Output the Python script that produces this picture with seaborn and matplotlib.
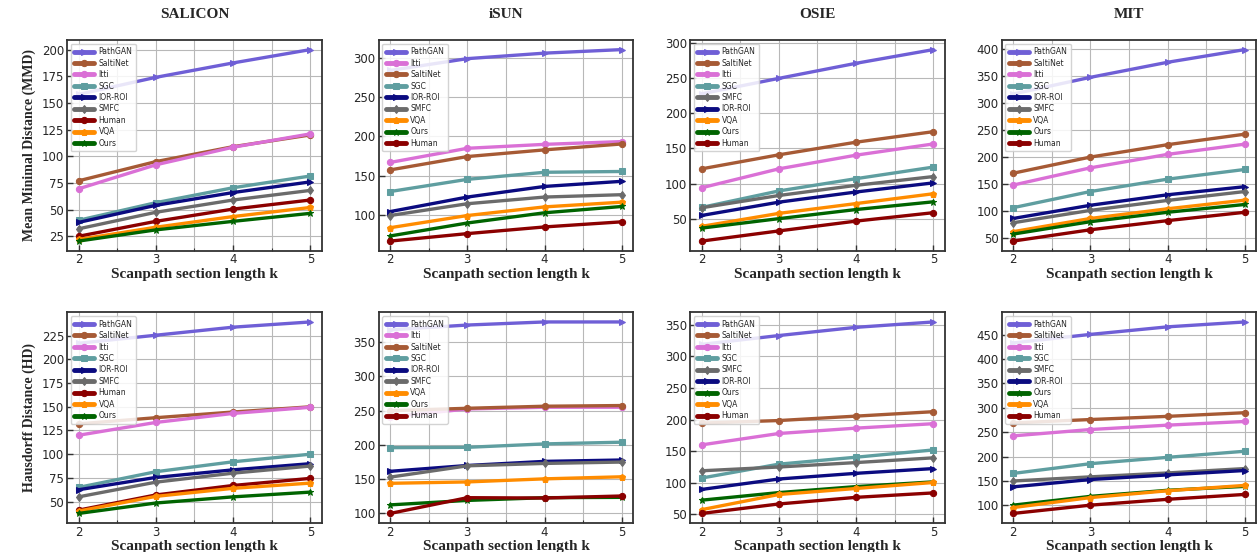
import numpy as np
import pandas as pd
import matplotlib
matplotlib.use('Agg')
import matplotlib.pyplot as plt
from matplotlib.ticker import MultipleLocator
import seaborn as sns

# longitudes de seccion k
k = [2, 3, 4, 5]

# Mean Minimal Distance (MMD)
salicon_mmd = {
    'PathGAN': [158, 174, 187.5, 200], 'SaltiNet': [77, 95, 109, 120],
    'Itti': [69.5, 92, 108.5, 121], 'SGC': [40, 56.5, 70.5, 81.5],
    'IOR-ROI': [38, 54, 66, 76], 'SMFC': [32, 47.5, 59, 68],
    'Human': [25, 39, 50.5, 59], 'VQA': [22, 33.5, 43.5, 52],
    'Ours': [20.5, 31, 39, 46.5],
}
isun_mmd = {
    'PathGAN': [284, 299, 306, 310.5], 'Itti': [167, 185, 190, 193.5],
    'SaltiNet': [157.5, 174.5, 183, 190.5], 'SGC': [130, 145.5, 154.5, 155.5],
    'IOR-ROI': [104.5, 123, 136.5, 143], 'SMFC': [99.5, 114.5, 123, 126],
    'VQA': [84, 99.5, 110.5, 116.5], 'Ours': [73.5, 90, 103, 111],
    'Human': [67, 76.5, 85, 91.5],
}
osie_mmd = {
    'PathGAN': [228, 250, 271.5, 291], 'SaltiNet': [121, 141, 159, 174],
    'Itti': [94, 121, 140.5, 156.5], 'SGC': [66, 89.5, 107, 123.5],
    'SMFC': [65.5, 83, 97.5, 110], 'IOR-ROI': [54.5, 73.5, 88, 101],
    'VQA': [39, 57.5, 71.5, 85.5], 'Ours': [36.5, 50, 63, 74],
    'Human': [18, 32.5, 46.5, 58.5],
}
mit_mmd = {
    'PathGAN': [317, 348, 376, 399.5], 'SaltiNet': [170, 200, 223, 242.5],
    'Itti': [148, 180, 205, 224], 'SGC': [106, 136, 159, 177],
    'IOR-ROI': [86, 110.5, 130, 145], 'SMFC': [78, 101, 119.5, 136],
    'VQA': [61.5, 86, 104, 120], 'Ours': [57, 80, 97.5, 112],
    'Human': [44, 65, 82, 97.5],
}

# Hausdorff Distance (HD)
salicon_hd = {
    'PathGAN': [217, 225.5, 234, 239.5], 'SaltiNet': [132, 138.5, 144.5, 150],
    'Itti': [120, 133.5, 143, 149.5], 'SGC': [65, 81.5, 92, 100],
    'IOR-ROI': [62.5, 75.5, 83.5, 90], 'SMFC': [55, 70.5, 80, 87.5],
    'Human': [41, 57, 67, 74.5], 'VQA': [40, 55.5, 64, 69.5],
    'Ours': [37.5, 48.5, 55, 60],
}
isun_hd = {
    'PathGAN': [368, 375, 379.5, 379.5], 'Itti': [241, 252.5, 255, 255],
    'SaltiNet': [250, 253.5, 256.5, 257.5], 'SGC': [196, 196.5, 201.5, 204],
    'IOR-ROI': [161.5, 170, 176, 178], 'SMFC': [153, 169.5, 173, 175],
    'VQA': [144, 146, 150.5, 153.5], 'Ours': [112.5, 119, 123, 123.5],
    'Human': [100, 123, 122.5, 125.5],
}
osie_hd = {
    'PathGAN': [319, 333, 346, 354.5], 'SaltiNet': [194.5, 198.5, 205.5, 212.5],
    'Itti': [160, 178, 186.5, 193.5], 'SGC': [107.5, 129.5, 140.5, 152],
    'SMFC': [119, 125, 132, 139.5], 'IOR-ROI': [89.5, 106, 115, 122.5],
    'Ours': [72.5, 84.5, 94, 101.5], 'VQA': [57.5, 81.5, 91, 100.5],
    'Human': [51.5, 66.5, 77, 84],
}
mit_hd = {
    'PathGAN': [433, 450.5, 466, 476], 'SaltiNet': [269, 276, 282.5, 290],
    'Itti': [242.5, 255.5, 264.5, 272], 'SGC': [165.5, 185.5, 198.5, 211],
    'SMFC': [150, 158.5, 166.5, 175.5], 'IOR-ROI': [138, 153, 162.5, 171.5],
    'Ours': [100.5, 118.5, 131, 139], 'VQA': [95.5, 116, 130, 141],
    'Human': [83.5, 100.5, 112.5, 122.5],
}

titulos = ['SALICON', 'iSUN', 'OSIE', 'MIT']
paneles = [[salicon_mmd, isun_mmd, osie_mmd, mit_mmd],
           [salicon_hd, isun_hd, osie_hd, mit_hd]]
ylabels = ['Mean Minimal Distance (MMD)', 'Hausdorff Distance (HD)']
pasos_y = [[25, 50, 50, 50], [25, 50, 50, 50]]

colores = {
    'PathGAN': '#6f5fd6', 'SaltiNet': '#a65a35', 'Itti': '#da70d6',
    'SGC': '#5f9ea0', 'IOR-ROI': '#0b0b80', 'SMFC': '#6b6b6b',
    'Human': '#8b0000', 'VQA': '#ff8c00', 'Ours': '#006400',
}
marcadores = {
    'PathGAN': '>', 'SaltiNet': 'o', 'Itti': 'o', 'SGC': 's',
    'IOR-ROI': '>', 'SMFC': 'd', 'Human': 'o', 'VQA': 'p', 'Ours': '*',
}

sns.set_theme(style='whitegrid', rc={
    'axes.edgecolor': '#333333', 'axes.linewidth': 1.3,
    'grid.color': '#b8b8b8', 'grid.linewidth': 0.8,
    'xtick.direction': 'in', 'ytick.direction': 'in',
    'xtick.bottom': True, 'ytick.left': True,
})
plt.rcParams['font.family'] = ['DejaVu Sans']

serif = {'family': 'Liberation Serif', 'weight': 'bold'}

fig, axes = plt.subplots(2, 4, figsize=(12.59, 5.52), dpi=100)
fig.subplots_adjust(left=0.0532, right=0.998, top=0.9275, bottom=0.0525,
                    wspace=0.222, hspace=0.293)

for r in range(2):
    for c in range(4):
        ax = axes[r, c]
        datos = paneles[r][c]
        for nombre, vals in datos.items():
            sns.lineplot(x=k, y=vals, ax=ax, color=colores[nombre],
                         marker=marcadores[nombre], markersize=4.5,
                         markeredgecolor=colores[nombre], linewidth=2.4,
                         label=nombre)
        ax.xaxis.set_major_locator(MultipleLocator(1))
        ax.xaxis.set_minor_locator(MultipleLocator(0.5))
        ax.yaxis.set_major_locator(MultipleLocator(pasos_y[r][c]))
        ax.grid(True, which='both', axis='x')
        ax.grid(True, which='major', axis='y')
        ax.tick_params(axis='both', which='major', labelsize=8.5, length=4,
                       width=1, color='#333333', pad=2)
        ax.tick_params(axis='x', which='minor', length=2.5, width=0.8,
                       color='#333333')
        ax.set_xlabel('Scanpath section length k', fontdict=serif,
                      fontsize=11, labelpad=1)
        if c == 0:
            ax.set_ylabel(ylabels[r], fontdict=serif, fontsize=10)
        else:
            ax.set_ylabel('')
        if r == 0:
            ax.set_title(titulos[c], fontdict=serif, fontsize=11, pad=16)
        leg = ax.legend(loc='upper left', fontsize=5.5, handlelength=2.6,
                        labelspacing=0.32, borderpad=0.45, handletextpad=0.6,
                        framealpha=0.85, edgecolor='#cccccc', fancybox=True)
        for h in leg.get_lines():
            h.set_linewidth(3.5)
        for s in ax.spines.values():
            s.set_color('#333333')

plt.savefig('out.png', dpi=100)
